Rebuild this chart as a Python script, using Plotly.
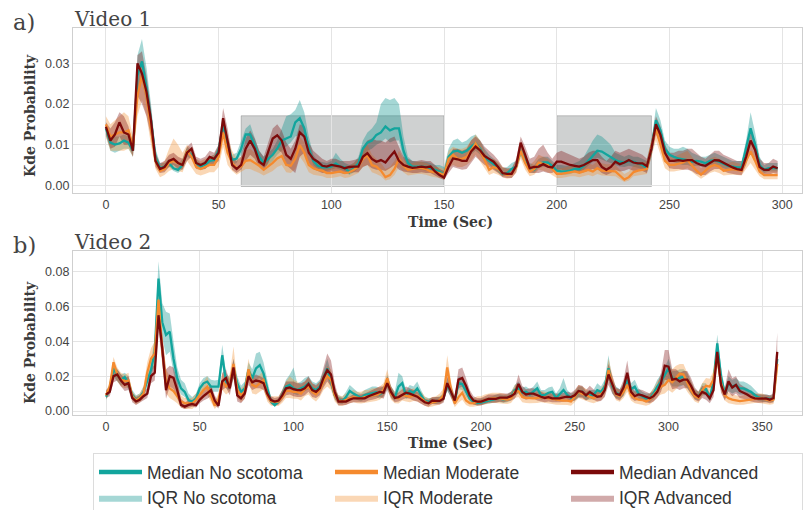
import plotly.graph_objects as go

# ---------------- data (values in units of 1e-3 probability) ----------------
t_video1 = list(range(0, 300, 2))
t_video2 = list(range(0, 360, 2))

v1_nosc_med = [14, 10.5, 10, 10.3, 11, 10.5, 8.5, 27, 30.5, 24,
               16, 7, 4.2, 4.6, 5.4, 4.2, 3.8, 5, 8.3, 7.5,
               5.4, 4.6, 5, 6, 6.2, 8.7, 15, 10, 6.2, 6.6,
               9, 12.5, 12.5, 9.9, 7, 5.5, 6.5, 7.5, 9, 11,
               11.5, 12, 15.5, 16.5, 14, 9, 6, 4.8, 4.4, 4.4,
               4.6, 5.4, 4.6, 4.4, 3.2, 4.2, 5.4, 9, 10.5, 11,
               12.4, 13, 14.5, 13.5, 14, 14, 8.5, 5.5, 4.6, 4.6,
               4.6, 4.5, 4.2, 3.8, 3.4, 2.5, 7, 8.3, 8.5, 8,
               8.5, 9.5, 10.3, 9, 7, 6, 5.2, 4, 2.8, 3,
               4, 4.6, 8.5, 6, 4, 3.8, 5.2, 5.6, 5.6, 4.8,
               3.6, 3.4, 3.4, 3.6, 4, 4, 4.8, 6, 7.2, 8.5,
               8.3, 7.6, 7, 6.2, 5.8, 5.6, 6, 5.8, 5.4, 5,
               4.3, 9, 16, 13.5, 9, 7.5, 7, 6.6, 6.4, 6.2,
               5.8, 6, 5.8, 5.4, 6, 6.2, 5.8, 5.2, 4.8, 4.6,
               4.4, 4.4, 9, 14, 10, 5, 3.8, 4.2, 4.2, 4.2]
v1_nosc_hi = [15.5, 12, 12, 12, 12.5, 12, 10, 32, 36, 29,
              20, 9, 5.5, 5.5, 6.5, 5.5, 5, 6.5, 9.5, 8.5,
              6.5, 5.5, 6, 7, 7.5, 10, 16.5, 12, 7.5, 8,
              11, 14, 15, 12, 8.5, 7, 8, 9, 11, 14,
              17, 17.5, 18.5, 21, 18, 12, 7.5, 6, 5.8, 5.5,
              6, 8, 6.5, 5.5, 5, 5.5, 7, 11, 13, 14,
              15.5, 20, 21.5, 21, 21.5, 20, 12, 7, 6, 5.8,
              5.8, 5.8, 5.5, 5, 5, 4.5, 9, 11, 11.5, 10.5,
              11, 12, 12.5, 11, 9, 7.5, 6.5, 5.5, 4.2, 4.5,
              5.5, 6, 10, 7.5, 5.5, 5, 6.5, 7, 7, 6,
              5, 5, 4.8, 5, 5.5, 6, 7, 9, 11, 12.5,
              12, 11, 10, 8, 7.5, 7, 7.5, 7, 7, 6.5,
              6, 11, 19, 16, 11, 9.5, 9, 9, 9.5, 9,
              8, 7.5, 7, 7, 7.5, 8, 7.5, 7, 6.5, 6,
              6, 6, 11, 18, 13, 7, 5, 5.5, 5.5, 5.5]
v1_nosc_lo = [12, 8.5, 8, 8.5, 9, 9, 7, 22, 26, 20,
              13, 5.5, 3.5, 3.8, 4.5, 3.5, 3, 4, 7, 6.5,
              4.5, 3.8, 4, 5, 5, 7, 13, 8.5, 5, 5.5,
              7.5, 10, 10.5, 8, 5.5, 4.5, 5, 6, 7.5, 8.5,
              9.5, 10.5, 12, 12.5, 11.5, 8, 5, 4, 3.5, 3.5,
              3.8, 4.2, 3.8, 3.5, 2.5, 3.2, 4.2, 7, 8.5, 9,
              10, 10.5, 11.5, 10.5, 11, 11, 6.5, 4.5, 3.8, 3.8,
              3.8, 3.6, 3.4, 3, 2.6, 2, 5.5, 6.5, 6.5, 6.5,
              6.8, 7.5, 8.5, 7.5, 5.8, 5, 4.2, 3.2, 2.2, 2.4,
              3.2, 3.8, 7, 5, 3.2, 3, 4.2, 4.5, 4.5, 3.8,
              2.8, 2.6, 2.6, 2.8, 3.2, 3.2, 3.8, 4.8, 5.8, 6.8,
              6.5, 6, 5.5, 5, 4.6, 4.5, 4.8, 4.6, 4.3, 4,
              3.4, 7.5, 13.5, 11.5, 7.5, 6, 5.6, 5.3, 5, 5,
              4.6, 4.8, 4.6, 4.3, 4.8, 5, 4.6, 4.2, 3.8, 3.7,
              3.5, 3.5, 7.5, 11.5, 8, 4, 3, 3.4, 3.4, 3.4]

v1_mod_med = [15, 12, 12.5, 13, 13, 13.5, 9.5, 22, 27, 22,
              14, 6, 3.5, 4, 5.5, 6, 5.5, 5, 8.5, 7,
              4.5, 4, 4.5, 5, 5, 7, 13, 8, 5.5, 4.2,
              4.6, 6, 6.2, 5.5, 4.8, 3.8, 4.6, 5.5, 6.6, 7.2,
              5, 4.8, 6.5, 9.9, 8, 5, 4.2, 3.8, 3.6, 3,
              3, 3.2, 3.4, 3, 3.2, 3.8, 4.6, 6.5, 7.5, 5,
              4.6, 3.6, 2, 2.5, 4, 6.5, 4.8, 3.8, 4, 4.2,
              4.2, 4, 3.4, 3.2, 3, 2.5, 6.5, 7.5, 6.5, 6.5,
              7, 8.5, 10.3, 8.6, 6, 3.8, 4.5, 4, 3, 2.5,
              2.8, 4.5, 8.5, 5.5, 3.4, 4, 5.6, 5.3, 4.9, 4,
              2.8, 2.8, 3, 3.2, 3.4, 3.1, 3.4, 3.8, 3.4, 4.2,
              3.6, 3.5, 3.5, 3.4, 2.4, 1.4, 2, 3.2, 3.6, 3.8,
              4, 9.5, 14, 10, 6, 5, 5, 5.3, 5.6, 6.2,
              4.8, 3.6, 2.6, 3.5, 4.6, 5, 4.6, 3.6, 3.8, 4,
              3.8, 3.6, 6, 8.3, 6, 3.4, 2.5, 2.5, 2.5, 2.5]
v1_mod_hi = [17, 15, 16, 17, 18, 17, 12, 25, 30, 25,
             17, 8, 5, 6, 9, 11.5, 10, 8, 10, 9,
             6.5, 6, 6.5, 7, 7.5, 9.5, 15, 12, 8.5, 6.5,
             7, 8.5, 9, 8, 7, 6, 6.5, 7.5, 9, 9.5,
             7.5, 7, 9, 12, 10.5, 7.5, 6, 5.5, 5.2, 4.5,
             4.5, 4.8, 5, 4.5, 4.8, 5.5, 6.5, 9, 10, 7.5,
             6.5, 5.5, 4, 4.5, 6, 8.5, 6.5, 5.5, 5.5, 5.8,
             5.8, 5.5, 5, 4.5, 4.5, 4, 8.5, 9.5, 9, 9,
             9.5, 11, 12.5, 11, 8.5, 6, 6.5, 5.8, 4.5, 4,
             4.2, 6, 10, 7.5, 5, 6, 7.5, 7, 6.5, 5.5,
             4.2, 4.2, 4.5, 4.8, 5, 4.6, 5, 5.5, 5, 6,
             5.4, 5.2, 5.2, 5, 3.8, 2.8, 3.4, 4.8, 5.4, 5.6,
             6, 11.5, 16.5, 12.5, 8, 7, 7, 7.5, 8, 8.5,
             7, 5.5, 4.2, 5.2, 6.5, 7, 6.5, 5.2, 5.5, 5.8,
             5.5, 5.2, 8.5, 11.5, 8.5, 5, 4, 4, 4, 4]
v1_mod_lo = [12, 8.5, 8.5, 8.5, 8.5, 9, 7, 17, 21, 17,
             10, 4, 2, 2.5, 3.5, 4, 3.5, 3.2, 6, 4.5,
             2.8, 2.4, 2.8, 3.2, 3.2, 4.5, 9.5, 5, 3.5, 2.6,
             3.2, 4, 4, 3.5, 3, 2.4, 3, 3.5, 4.5, 5,
             3.2, 3, 4, 7, 5.5, 3.2, 2.6, 2.4, 2.2, 1.8,
             1.8, 2, 2.2, 1.8, 2, 2.4, 3, 4.5, 5, 3.2,
             2.8, 2.2, 1.2, 1.5, 2.5, 4.5, 3.2, 2.4, 2.6, 2.8,
             2.8, 2.6, 2.2, 2, 1.8, 1.5, 4.2, 5, 4.5, 4.5,
             5, 6, 7.5, 6, 4.2, 2.5, 3, 2.6, 2, 1.6,
             1.8, 3, 6.5, 3.8, 2.2, 2.6, 3.8, 3.6, 3.2, 2.6,
             1.8, 1.8, 2, 2.2, 2.2, 2, 2.2, 2.5, 2.2, 2.8,
             2.4, 2.3, 2.3, 2.2, 1.5, 0.8, 1.2, 2.2, 2.4, 2.6,
             2.8, 7, 11, 7.5, 4.2, 3.4, 3.4, 3.6, 3.8, 4.2,
             3.2, 2.4, 1.6, 2.2, 3, 3.4, 3, 2.4, 2.5, 2.6,
             2.5, 2.4, 4, 5.5, 4, 2.2, 1.5, 1.5, 1.5, 1.5]

v1_adv_med = [14.4, 11, 12.5, 15.5, 13, 12.5, 8.5, 30, 27.5, 23,
              16, 6, 4, 4.5, 6, 6.5, 5.5, 5, 8, 9,
              5.5, 5, 5.5, 7, 6.5, 8, 16.5, 11, 5, 4,
              5, 9, 11, 9, 5.8, 5, 8, 11.5, 12.3, 11,
              7.5, 6.5, 9, 13, 12, 8, 6.5, 5.8, 4.8, 4.6,
              5, 4.8, 4.6, 4.2, 4.5, 4.6, 4.6, 7, 7.9, 6.5,
              5.8, 6.2, 5.6, 7, 8.3, 6, 5, 4.6, 4.3, 4.4,
              4.6, 4.4, 4.6, 3.4, 2.5, 1.9, 4.5, 6.6, 6.4, 6,
              6, 8.3, 9.5, 8.6, 7.2, 6.5, 5.8, 4.5, 3, 2.8,
              2.8, 4.8, 10.5, 7.5, 4.2, 4.5, 4.6, 5.2, 4.6, 4.4,
              5.8, 5.8, 5.3, 5, 4.8, 4.6, 5, 5.6, 6.2, 6.2,
              4.5, 3.8, 4.5, 5.8, 5.2, 5.6, 6.2, 5.6, 5.4, 5.4,
              4.7, 9, 15, 12.4, 8, 6, 6, 6.2, 6, 6.2,
              6.2, 5.5, 5, 4.8, 5.5, 6.2, 6.1, 5.5, 4.8, 4.4,
              4, 3.8, 7, 11, 8.7, 4.5, 3.8, 3.8, 4.6, 4.2]
v1_adv_hi = [15.5, 14, 15.5, 18, 17, 14.5, 10, 32, 33, 27,
             19, 8, 5.5, 6, 7.5, 8, 7, 6.5, 9.5, 10.5,
             7, 6.5, 7, 8.5, 8, 10, 19, 14, 7, 6,
             7, 11.5, 13.5, 11.5, 8.5, 7, 10.5, 14, 15, 13.5,
             10.5, 9, 11, 15, 14.5, 10.5, 8.5, 7.5, 6.5, 6,
             6.5, 6.5, 6, 6, 6, 6.2, 6.5, 9.5, 11, 11.5,
             11, 11, 10.5, 11.5, 12, 9.5, 7, 6.5, 6, 6,
             6.2, 6, 6, 5, 4, 3.5, 6, 9, 9, 8.5,
             9, 11, 12, 11, 9.5, 8.5, 7.5, 6.2, 4.5, 4.2,
             4.2, 6.5, 12, 9.5, 6.5, 7, 9, 10, 8, 6.5,
             8, 8.5, 8, 7.5, 7, 6.5, 7, 8, 8.5, 8.5,
             7, 6, 7, 8.5, 8, 8.5, 9, 8.5, 8, 7.5,
             6.5, 11, 17, 14.5, 10, 8, 8, 8.5, 8.5, 9,
             9, 8, 7, 6.5, 7.5, 8.5, 8.5, 7.5, 7, 6.5,
             6, 6, 9, 13, 11, 6.5, 5.5, 5.5, 6.5, 6]
v1_adv_lo = [12.5, 9, 9.5, 12, 10, 10, 7, 22, 20, 17,
             12, 4.5, 3, 3.2, 4.5, 5, 4, 3.8, 6, 7,
             4, 3.8, 4, 5, 5, 6, 13, 8.5, 3.8, 3,
             3.8, 6, 7.5, 6.5, 4.5, 3.5, 5.5, 8, 9, 8,
             5, 4, 3, 7, 8, 5.5, 4, 3.5, 3, 3,
             3.4, 3.2, 3, 2.8, 3, 3.2, 3.2, 4.5, 5, 4.2,
             3.8, 3.8, 3.5, 4.2, 5, 3.8, 3.4, 3.2, 3, 3,
             3.2, 3, 3, 2.4, 1.8, 1.3, 3, 4.5, 4.2, 3.8,
             4, 5.5, 7, 6, 5, 4.5, 3.8, 3, 2, 1.8,
             1.8, 3.2, 8.5, 5.5, 3, 3, 3, 3.4, 3, 3,
             3.8, 3.8, 3.5, 3.3, 3.2, 3, 3.2, 3.6, 4, 4,
             3, 2.5, 3, 3.8, 3.4, 3.6, 4, 3.6, 3.5, 3.5,
             3, 7, 12.5, 10, 6, 4.2, 4, 4, 3.8, 3.8,
             3.5, 2.8, 2.5, 2.5, 3.4, 4, 4, 3.5, 3, 2.8,
             2.6, 2.5, 5, 8.5, 6.5, 3, 2.5, 2.5, 3, 2.8]

v2_nosc_med = [8.2, 13, 24.5, 20.7, 17.8, 19.5, 16, 9.2, 6.3, 7.7,
               11, 17, 23.6, 34, 76, 51, 43.7, 45.6, 30, 18.8,
               13, 11, 6.3, 5.4, 7.3, 13, 15.9, 16.9, 14, 14,
               14, 32, 17, 15, 24.5, 15.9, 11, 13, 23.6, 18.8,
               24.5, 26.4, 21.6, 13, 5.4, 3.4, 5.4, 9.2, 14, 15,
               13, 12, 13, 14, 16, 13, 12, 14, 18.8, 24.5,
               17, 9, 6.5, 5.6, 8, 11.5, 10, 8.5, 7.5, 9.2,
               9.8, 10.5, 10.8, 9.5, 11, 17, 10.5, 7.8, 14, 16,
               9, 11.5, 10.5, 13, 9, 5.7, 5.4, 5.5, 5.7, 6.3,
               7.8, 15, 11, 5.4, 16, 15.5, 11, 7, 5.4, 4.6,
               4.8, 5.4, 5.9, 6.3, 7, 7.2, 6.5, 7, 8.2, 12,
               13, 10.5, 11, 9.5, 11, 13, 9, 9.2, 10.5, 11,
               7.5, 9.5, 12, 9.2, 7.5, 8.5, 10.5, 11, 8.5, 9,
               9.2, 12, 11, 14, 24.5, 14, 10.5, 9.5, 12, 17.8,
               12.5, 14, 10, 8.5, 7.3, 7.3, 10, 14, 16.9, 20.7,
               24.5, 18.8, 18.5, 19, 19.7, 17.5, 13, 9.5, 8.2, 12.5,
               12.5, 7.5, 17, 38.9, 20, 10, 15.9, 14, 15, 13,
               13, 12, 11, 9.2, 7.8, 7.3, 7.3, 7, 7, 30]
v2_nosc_hi = [10, 16, 28, 24, 21, 22, 20, 12, 9, 10,
              14, 20, 28, 42, 86, 62, 57, 56, 40, 25,
              18, 16, 10, 8, 10, 16, 19, 20, 18, 17.5,
              18, 38, 22, 19, 30, 20, 14.5, 17, 28, 24,
              33, 34, 28, 17, 8, 5.5, 7.5, 12, 18, 21,
              25, 16, 17, 19, 20, 17, 16, 18, 23, 30,
              22, 12, 9, 8, 11, 15, 13, 11, 10, 12,
              13, 14, 14, 13, 14, 21, 14, 11, 22, 20,
              12, 15, 14, 17, 12, 8, 7.5, 7.5, 8, 8.5,
              10.5, 19, 14, 7.5, 20, 19, 14, 9.5, 7.5, 6.5,
              7, 7.5, 8, 8.5, 9.5, 9.5, 9, 9.5, 11, 15,
              17, 13.5, 14, 12.5, 14, 17, 12, 12, 13.5, 14,
              10, 13, 19, 12, 10, 11, 14, 14, 11, 12,
              12, 16, 14, 18, 32, 18, 14, 12.5, 16, 22,
              16, 18, 13, 11, 10, 10, 13, 18, 21, 25,
              30, 23, 23, 24, 24, 22, 17, 12.5, 11, 16,
              16, 10, 21, 44, 25, 13, 20, 18, 19, 17,
              17, 16, 14.5, 12, 10, 9.5, 9.5, 9, 9, 35]
v2_nosc_lo = [6.5, 10, 20, 17, 14.5, 16, 12.5, 7, 4.5, 5.8,
              8.5, 13.5, 19, 27, 65, 42, 32, 34, 22, 13.5,
              9.5, 8, 4.5, 3.8, 5.5, 10, 12.5, 13.5, 11, 11,
              11, 26, 13, 11.5, 19, 12, 8, 10, 19, 14.5,
              18, 19, 16, 10, 4, 2.4, 4, 7, 11, 11.5,
              10, 9, 10, 11, 12.5, 10, 9, 11, 15, 19,
              13, 6.5, 4.5, 4, 6, 8.5, 7.5, 6.3, 5.5, 7,
              7.5, 8, 8.2, 7, 8.5, 13.5, 8, 5.8, 10, 12,
              6.8, 8.5, 8, 10, 6.8, 4, 3.8, 4, 4, 4.5,
              5.8, 11.5, 8, 3.8, 12.5, 12, 8, 5, 3.8, 3.2,
              3.4, 3.8, 4.2, 4.6, 5, 5.2, 4.6, 5, 6, 9,
              10, 7.8, 8, 7, 8, 9.5, 6.5, 6.8, 7.5, 8,
              5.5, 7, 8.5, 6.8, 5.5, 6, 7.5, 8, 6.2, 6.5,
              6.8, 8.5, 8, 10, 18, 10, 7.5, 7, 8.5, 13,
              9, 10, 7.3, 6, 5, 5, 7, 10, 12.5, 15,
              18, 14, 14, 14, 15, 13, 9.5, 7, 6, 9,
              9, 5.5, 12.5, 32, 15, 7, 11.5, 10, 11, 9.5,
              9.5, 8.5, 8, 6.8, 5.8, 5.3, 5.3, 5, 5, 24]

v2_mod_med = [9, 14, 28, 21, 18, 17, 17.5, 8.5, 6, 7.5,
              10, 22, 30, 33, 64, 35, 17, 13, 11.5, 8.5,
              5.4, 4.5, 4.4, 4.4, 6.3, 9, 12, 14, 9, 3,
              6.5, 17, 14, 16, 27, 12, 9, 11, 24, 15,
              14, 16, 17.8, 9.2, 5.5, 5.4, 5.4, 8, 11.5, 11.5,
              11, 11, 10, 12.5, 14, 11, 9.5, 12, 17, 20,
              18, 9, 6, 5.4, 6.5, 7.3, 8, 7.5, 7.3, 8,
              8.2, 9, 9.2, 10, 12, 18.8, 10, 7.5, 7.3, 9.2,
              8.5, 8.2, 9, 8.5, 7.3, 5.5, 4.4, 5, 5.4, 6.5,
              9, 25, 12, 4.4, 8, 10.5, 6, 4.5, 4.4, 5.4,
              5.4, 6.3, 6.8, 7.3, 7.3, 7.3, 6.8, 6.5, 7.3, 11,
              11.5, 8, 7.5, 7.3, 7.3, 7.5, 8, 7.7, 7.3, 6.8,
              6.3, 6.3, 6, 6, 5.5, 8, 11, 10, 9, 8,
              7.3, 8.5, 9.5, 12, 23.6, 15.5, 9.5, 8.5, 11, 15,
              9.2, 7.5, 6.5, 6.3, 5.4, 6.5, 9, 12, 14, 15,
              17.8, 16.5, 19, 21.5, 21, 16, 12, 8.5, 7.5, 12,
              14.5, 14, 18, 32, 16, 9, 7.3, 6.5, 6, 5.7,
              6, 6.3, 7, 7.2, 7.3, 7.3, 6.5, 6, 6.5, 27]
v2_mod_hi = [11, 17, 31, 25, 22, 21, 22, 11, 8.5, 10,
             14, 28, 36, 40, 70, 44, 24, 20, 18, 14,
             9, 7.5, 7.5, 7.5, 10, 13.5, 17, 20, 14, 6,
             10, 22, 19, 21, 37, 17, 13, 15, 30, 20,
             19, 21, 23, 13, 8.5, 8.5, 8.5, 12, 17, 20,
             18, 17, 15, 17, 19, 16, 14, 17, 22, 26,
             24, 13, 9, 8.5, 10, 11, 12, 11, 11, 12,
             12, 13, 13, 14, 16, 24, 14, 11, 11, 13,
             12, 12, 13, 12, 11, 8.5, 7, 8, 8.5, 10,
             13, 32, 17, 7.5, 12, 15, 9.5, 7.5, 7.5, 8.5,
             8.5, 9.5, 10, 10.5, 10.5, 10.5, 10, 9.5, 10.5, 15,
             16, 11.5, 11, 10.5, 10.5, 11, 11.5, 11, 10.5, 10,
             9.5, 9.5, 9, 9, 8.5, 11.5, 15, 14, 12.5, 11.5,
             10.5, 12, 13, 16, 30, 21, 13, 12, 15, 20,
             13, 11, 10, 9.5, 8.5, 10, 13, 17, 19.5, 22,
             25, 24, 26, 27, 27, 22, 17, 12, 11, 16,
             19, 18.5, 23, 38, 21, 12.5, 10.5, 9.5, 9, 8.5,
             9, 9.5, 10, 10, 10, 10, 9, 8.5, 9, 33]
v2_mod_lo = [7, 10.5, 22, 17, 14, 13, 13.5, 6, 3.8, 5,
             7, 16, 23, 25, 52, 26, 10, 7.5, 6, 4.5,
             2, 1.2, 1.2, 1.2, 3, 5, 7.5, 9, 5, 1.2,
             3.5, 12, 9.5, 11, 19, 7.5, 5, 7, 17, 10,
             9.5, 11, 12.5, 5.5, 3, 2.8, 2.8, 4.8, 7.5, 7.5,
             7, 7, 6, 8.5, 9.5, 7, 5.5, 8, 12, 14,
             12, 5.5, 3.2, 2.8, 3.8, 4.5, 5, 4.5, 4.3, 5,
             5, 5.5, 5.8, 6.5, 8, 13.5, 6.5, 4.5, 4.3, 6,
             5.5, 5, 5.8, 5.5, 4.3, 3, 2.2, 2.6, 3, 3.8,
             5.5, 18, 7.5, 2.2, 4.8, 6.5, 3.4, 2.4, 2.4, 3,
             3, 3.8, 4.2, 4.6, 4.6, 4.6, 4.2, 4, 4.6, 7.5,
             8, 5, 4.6, 4.4, 4.4, 4.6, 5, 4.8, 4.4, 4,
             3.6, 3.6, 3.4, 3.4, 3, 5, 7.5, 6.5, 5.8, 5,
             4.4, 5.4, 6.2, 8.5, 18, 11, 6.2, 5.3, 7.5, 11,
             6, 4.5, 3.8, 3.6, 3, 3.8, 5.5, 8, 9.5, 10,
             12, 10.5, 12.5, 15, 15, 11, 8, 5.5, 4.5, 8.5,
             10.5, 10, 13, 26, 11.5, 6, 4.5, 4, 3.6, 3.4,
             3.6, 4, 4.5, 4.6, 4.6, 4.6, 4, 3.6, 4, 21]

v2_adv_med = [9.5, 11, 20, 21, 17.5, 15, 16, 7.5, 5.5, 6.5,
              8.5, 10, 20, 22, 55, 36, 12, 20, 19, 12,
              3.5, 2.5, 3.5, 4, 3.4, 6.5, 8.5, 10, 12, 6,
              3, 17, 19, 13, 25, 9, 7.3, 10, 20, 16.5,
              17.5, 17, 16, 10, 6.3, 5.4, 6, 9, 13, 13.5,
              12.5, 12, 12, 13, 15.5, 12, 11, 13, 19, 23.5,
              21, 11, 5.4, 5.5, 5.4, 6.5, 7.3, 7.3, 7.2, 7.3,
              8.5, 9.2, 10, 11, 10.5, 16, 11, 7.5, 8, 9.2,
              10.5, 10, 9, 8.2, 6.5, 5, 4.4, 6, 5.8, 5.8,
              7, 16, 11, 6, 18, 19, 14.5, 9, 6, 5.4,
              5.4, 6.3, 7, 7, 7, 7.7, 7.5, 7.7, 8.5, 10,
              15.5, 11, 9.5, 10, 10, 9, 8.2, 7.5, 8, 7.3,
              7.3, 7.3, 7.8, 8.2, 8, 9, 11.5, 11, 9, 11,
              9.5, 8.2, 8.5, 12, 21, 15, 10, 9.2, 13.5, 22,
              11, 8.5, 9.5, 9, 8, 7.3, 8.5, 11, 16, 26,
              25.5, 18, 18.5, 17, 18, 18, 14.5, 10, 8.2, 11,
              10, 7.3, 12, 34, 15, 9.5, 17, 13.5, 15, 11.5,
              10.5, 9.5, 8, 7.3, 7.1, 7.1, 7.2, 6.5, 7.5, 34]
v2_adv_hi = [12, 14, 24, 24, 21, 19, 20, 10.5, 8, 9,
             11, 13, 24, 27, 60, 44, 24, 26, 25, 18,
             7, 5, 6, 6.5, 6, 9, 11.5, 13, 15, 9,
             5, 22, 24, 17, 30, 13, 10, 13, 24, 20,
             21, 20, 19, 13, 8.5, 7.5, 8, 12, 17, 17,
             17, 16, 16, 17, 20, 16, 15, 17, 25, 33,
             29, 16, 8, 7.5, 7.5, 8.5, 9.5, 9.5, 9.5, 10,
             11, 12, 13, 14, 14, 20, 14.5, 10, 10.5, 12,
             14, 13, 12, 11, 9, 7, 6.5, 8, 8, 8,
             9.5, 20, 15, 9, 24, 25, 19, 12, 8.5, 7.5,
             7.5, 8.5, 9.5, 9.5, 9.5, 10, 10, 10, 11, 13,
             21, 14.5, 12.5, 13, 13, 12, 11, 10, 10.5, 10,
             10, 10, 10.5, 11, 10.5, 12, 15, 14.5, 12, 14.5,
             12.5, 11, 11.5, 16, 27, 20, 13.5, 12.5, 18, 29,
             15, 11.5, 12.5, 12, 11, 10, 11.5, 15, 22, 35,
             35, 24, 24, 22, 23, 23, 19, 13.5, 11, 14.5,
             13.5, 10, 16, 40, 20, 13, 24, 19, 20, 15.5,
             14, 13, 11, 10, 9.5, 9.5, 9.5, 9, 10, 45]
v2_adv_lo = [7.5, 8.5, 16.5, 17.5, 14, 11.5, 12, 5, 3.5, 4.5,
             6, 7.5, 16, 17.5, 47, 28, 7, 14, 12.5, 7,
             2, 1.2, 2, 2.4, 2, 4.5, 6, 7, 8.5, 3.5,
             1.5, 12, 13.5, 9, 19, 5.5, 4.5, 7, 15, 12,
             13, 13, 12, 7, 4, 3.2, 3.8, 6, 9, 9.5,
             8.5, 8, 8, 9, 11, 8, 7.5, 9, 13.5, 17,
             14, 7, 3.2, 3.5, 3.5, 4.5, 5, 5, 4.8, 5,
             6, 6.5, 7, 8, 7, 12, 7.5, 5, 5.5, 6.5,
             7.5, 7, 6, 5.5, 4.2, 3, 2.5, 4, 3.8, 3.8,
             4.8, 12, 7.5, 3.5, 13, 14, 10, 6, 3.8, 3.2,
             3.2, 4, 4.8, 4.8, 4.8, 5.3, 5, 5.3, 6, 7,
             11, 7.5, 6.5, 7, 7, 6, 5.5, 5, 5.5, 5,
             5, 5, 5.3, 5.5, 5.5, 6, 8, 7.5, 6, 7.5,
             6.5, 5.5, 5.8, 8, 15, 10, 7, 6, 9, 15,
             7.5, 5.8, 6.5, 6, 5, 4.5, 5.5, 7.5, 11, 18,
             17.5, 12.5, 13, 12, 13, 13, 10, 6.5, 5.5, 7.5,
             6.5, 4.5, 8, 27, 10.5, 6, 11, 8.5, 10, 7.5,
             7, 6.5, 5.5, 5, 4.8, 4.8, 5, 4.5, 5, 25]

# shaded time windows in video 1 (seconds) and their vertical extent
span_start = [60, 200]
span_end = [150, 242]
span_bottom = -0.0003
span_top = 0.0171

group_names = ["No scotoma", "Moderate", "Advanced"]
line_colors = ["#12a59d", "#f58a2e", "#7b0a0a"]
band_colors = ["rgba(18,150,145,0.38)", "rgba(243,150,60,0.38)", "rgba(128,20,20,0.36)"]

SCALE = 1e-3
for arr in [v1_nosc_med, v1_nosc_hi, v1_nosc_lo, v1_mod_med, v1_mod_hi, v1_mod_lo,
            v1_adv_med, v1_adv_hi, v1_adv_lo]:
    assert len(arr) == len(t_video1), len(arr)
for arr in [v2_nosc_med, v2_nosc_hi, v2_nosc_lo, v2_mod_med, v2_mod_hi, v2_mod_lo,
            v2_adv_med, v2_adv_hi, v2_adv_lo]:
    assert len(arr) == len(t_video2), len(arr)

videos = [
    (t_video1, [(v1_nosc_med, v1_nosc_lo, v1_nosc_hi),
                (v1_mod_med, v1_mod_lo, v1_mod_hi),
                (v1_adv_med, v1_adv_lo, v1_adv_hi)], "x", "y"),
    (t_video2, [(v2_nosc_med, v2_nosc_lo, v2_nosc_hi),
                (v2_mod_med, v2_mod_lo, v2_mod_hi),
                (v2_adv_med, v2_adv_lo, v2_adv_hi)], "x2", "y2"),
]

fig = go.Figure()
W, H = 803, 510

# legend-only entries for medians (thicker sample lines like the original)
for gi, name in enumerate(group_names):
    fig.add_trace(go.Scatter(x=[None], y=[None], mode="lines", name="Median " + name,
                             line=dict(color=line_colors[gi], width=4.5),
                             legendrank=gi + 1, showlegend=True, xaxis="x", yaxis="y"))

for vi, (tt, series, xa, ya) in enumerate(videos):
    # IQR bands
    for gi, (med, lo, hi) in enumerate(series):
        xs = tt + tt[::-1]
        ys = [v * SCALE for v in hi] + [v * SCALE for v in lo[::-1]]
        fig.add_trace(go.Scatter(x=xs, y=ys, fill="toself", fillcolor=band_colors[gi],
                                 mode="lines", line=dict(width=0, color=band_colors[gi]),
                                 name="IQR " + group_names[gi], legendrank=4 + gi,
                                 showlegend=(vi == 0), hoverinfo="skip",
                                 xaxis=xa, yaxis=ya))
    # medians
    for gi, (med, lo, hi) in enumerate(series):
        fig.add_trace(go.Scatter(x=tt, y=[v * SCALE for v in med], mode="lines",
                                 line=dict(color=line_colors[gi], width=2.3),
                                 name="Median " + group_names[gi], showlegend=False,
                                 xaxis=xa, yaxis=ya))

# grey analysis windows
for s0, s1 in zip(span_start, span_end):
    fig.add_shape(type="rect", xref="x", yref="y", x0=s0, x1=s1, y0=span_bottom, y1=span_top,
                  fillcolor="rgba(90,95,95,0.29)", line=dict(width=1, color="rgba(90,95,95,0.33)"),
                  layer="below")

def px_x(p):
    return p / W

def px_y(p):
    return 1 - p / H

axis_common = dict(showgrid=True, gridcolor="#e4e4e4", gridwidth=1, zeroline=False,
                   showline=True, linecolor="#cfcfcf", linewidth=1.2, mirror=True,
                   tickfont=dict(family="Liberation Sans, Arial", size=12.5, color="#444444"),
                   ticks="", fixedrange=True, automargin=False)

xdom = [px_x(73), px_x(802)]
fig.update_layout(
    width=W, height=H,
    margin=dict(l=0, r=0, t=0, b=0, autoexpand=False),
    paper_bgcolor="white", plot_bgcolor="white",
    xaxis=dict(domain=xdom, anchor="y", range=[-14.6, 308.8],
               tickvals=[0, 50, 100, 150, 200, 250, 300], **axis_common),
    yaxis=dict(domain=[px_y(193), px_y(28)], anchor="x", range=[-0.0019, 0.0387],
               tickvals=[0, 0.01, 0.02, 0.03], tickformat=".2f", **axis_common),
    xaxis2=dict(domain=xdom, anchor="y2", range=[-17.6, 371.2],
                tickvals=[0, 50, 100, 150, 200, 250, 300, 350], **axis_common),
    yaxis2=dict(domain=[px_y(415), px_y(251)], anchor="x2", range=[-0.0023, 0.0919],
                tickvals=[0, 0.02, 0.04, 0.06, 0.08], tickformat=".2f", **axis_common),
    showlegend=True,
    legend=dict(orientation="h", x=px_x(93), y=px_y(453), xanchor="left", yanchor="top",
                bgcolor="white", bordercolor="#dcdcdc", borderwidth=1,
                font=dict(family="Liberation Sans, Arial", size=17.5, color="#333333"),
                entrywidth=178, entrywidthmode="pixels", itemwidth=43,
                traceorder="normal", tracegroupgap=0),
)

serif = "DejaVu Serif"
annots = [
    dict(text="a)", x=px_x(11), y=px_y(22), xanchor="left", yanchor="middle",
         font=dict(family=serif, size=22.5, color="#444444")),
    dict(text="Video 1", x=px_x(72), y=px_y(19), xanchor="left", yanchor="middle",
         font=dict(family=serif, size=20, color="#444444")),
    dict(text="b)", x=px_x(11), y=px_y(245), xanchor="left", yanchor="middle",
         font=dict(family=serif, size=22.5, color="#444444")),
    dict(text="Video 2", x=px_x(72), y=px_y(242), xanchor="left", yanchor="middle",
         font=dict(family=serif, size=20, color="#444444")),
    dict(text="<b>Kde Probability</b>", x=px_x(30), y=px_y(116), textangle=-90,
         xanchor="center", yanchor="middle", font=dict(family=serif, size=14, color="#3a3a3a")),
    dict(text="<b>Kde Probability</b>", x=px_x(30), y=px_y(343), textangle=-90,
         xanchor="center", yanchor="middle", font=dict(family=serif, size=14, color="#3a3a3a")),
    dict(text="<b>Time (Sec)</b>", x=px_x(450), y=px_y(222), xanchor="center", yanchor="middle",
         font=dict(family=serif, size=14, color="#3a3a3a")),
    dict(text="<b>Time (Sec)</b>", x=px_x(450), y=px_y(443), xanchor="center", yanchor="middle",
         font=dict(family=serif, size=14, color="#3a3a3a")),
]
for a in annots:
    fig.add_annotation(xref="paper", yref="paper", showarrow=False, **a)

fig.write_html("out.html", config={"displayModeBar": False},
               post_script="document.body.style.margin='0';document.body.style.padding='0';"
                           "document.body.style.overflow='hidden';")
